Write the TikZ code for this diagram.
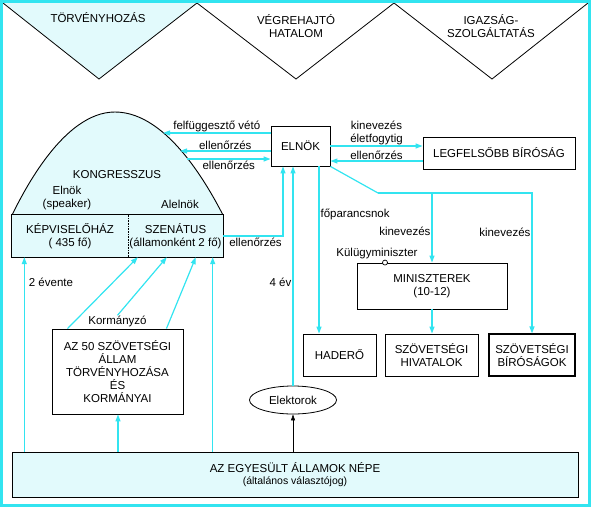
\documentclass[tikz,border=0pt]{standalone}
\usepackage{fontspec}
\setmainfont{Liberation Sans}
\usetikzlibrary{arrows.meta,positioning,shapes.geometric,calc}
\definecolor{kek}{RGB}{50,228,240}
\definecolor{halvany}{RGB}{226,250,252}

\begin{document}
\begin{tikzpicture}[x=1pt, y=-1pt,
  font=\fontsize{11.5}{13}\selectfont,
  doboz/.style ={rectangle, draw=black, line width=0.9pt, align=center,
                 inner sep=2pt},
  felirat/.style={inner sep=1pt, align=center, text=black},
  nyil/.style  ={-{Triangle[length=7pt,width=5pt]}, line width=1.2pt, kek},
  vonal/.style ={line width=1.2pt, kek},
  fekete/.style={-{Triangle[length=6pt,width=4pt]}, line width=0.6pt, black},
]
\useasboundingbox (0,0) rectangle (591,507);

% === Top: the three branches ===
\filldraw[fill=halvany, line width=0.8pt] (3,3) -- (99,79) -- (197,3);
\draw[line width=0.8pt] (197,3) -- (296,79) -- (394,3) -- (492,79) -- (588,3);
\node[felirat] (torv) at (98,18) {TÖRVÉNYHOZÁS};
\node[felirat] (vegr) at (296,26) {VÉGREHAJTÓ\\HATALOM};
\node[felirat] (igaz) at (491,26) {IGAZSÁG-\\SZOLGÁLTATÁS};

% === Congress ===
\fill[halvany] (12,215) parabola bend (115,112) (223,215) -- cycle;
\draw[line width=0.9pt] (12,215) parabola bend (115,112) (223,215);
\node[felirat] (kongr) at (117,175) {KONGRESSZUS};
\node[felirat] (speaker) at (67,198) {Elnök\\(speaker)};
\node[felirat] (alelnok) at (180,204) {Alelnök};

\node[rectangle, fill=halvany, minimum width=116pt, minimum height=42pt,
      align=center, inner sep=0pt] (kepv) at (70,236)
  {KÉPVISELŐHÁZ\\( 435 fő)};
\node[rectangle, fill=halvany, minimum width=95pt, minimum height=42pt,
      align=center, inner sep=0pt] (szen) at (175.5,236)
  {SZENÁTUS\\(államonként 2 fő)};
\draw[line width=0.9pt] (kepv.north west) rectangle (szen.south east);
\draw[densely dotted, line width=0.6pt] (kepv.north east) -- (kepv.south east);

% dome points hit by the arrows
\coordinate (dome1) at (163,133);
\coordinate (dome2) at (180,151);
\coordinate (dome3) at (187,159);

% === Executive and courts ===
\node[doboz, minimum width=59pt, minimum height=40pt] (elnok) at (300.5,146) {ELNÖK};
\node[doboz, minimum width=152pt, minimum height=32pt] (legf) at (499,153)
  {LEGFELSŐBB BÍRÓSÁG};
\node[doboz, minimum width=150pt, minimum height=46pt] (minisz) at (432,286)
  {MINISZTEREK\\(10-12)};
\node[doboz, minimum width=73pt, minimum height=42pt] (hadero) at (339.5,355)
  {HADERŐ};
\node[doboz, minimum width=93pt, minimum height=42pt] (hivatal) at (431.5,355)
  {SZÖVETSÉGI\\HIVATALOK};
\node[doboz, line width=1.15pt, minimum width=86pt, minimum height=42pt]
  (birosag) at (532,355) {SZÖVETSÉGI\\BÍRÓSÁGOK};

\node[circle, draw=black, fill=white, line width=0.7pt, inner sep=0pt,
      minimum size=5pt] (kulkor) at ([xshift=-47pt]minisz.north) {};
\node[felirat, above=0pt of kulkor, xshift=-8pt] (kulugy) {Külügyminiszter};

% === States, electors, people ===
\node[doboz, minimum width=131pt, minimum height=85pt] (allam) at (117.5,371.5)
  {AZ 50 SZÖVETSÉGI\\ÁLLAM\\TÖRVÉNYHOZÁSA\\ÉS\\KORMÁNYAI};
\node[felirat, above=0pt of allam] (kormanyzo) {Kormányzó};
\node[ellipse, draw=black, line width=0.8pt, minimum width=87pt,
      minimum height=28pt, inner sep=0pt] (elektor) at (293,400) {Elektorok};
\node[doboz, fill=halvany, minimum width=566pt, minimum height=45pt]
  (nep) at (295,474.5)
  {AZ EGYESÜLT ÁLLAMOK NÉPE\\[-1pt]{\fontsize{10.5}{12}\selectfont(általános választójog)}};

% === Elnök <-> Congress ===
\draw[nyil] (elnok.west |- dome1) -- node[above, felirat]{felfüggesztő vétó} (dome1);
\draw[nyil] (elnok.west |- dome2) -- node[above, felirat]{ellenőrzés} (dome2);
\draw[nyil] (dome3) -- node[below, felirat]{ellenőrzés} (elnok.west |- dome3);
\draw[nyil] (szen.east) -| node[pos=0.27, below, felirat]{ellenőrzés}
  ([xshift=-17.5pt]elnok.south);

% === Elnök <-> Supreme Court ===
\draw[nyil] (elnok.east) -- node[above, felirat]{kinevezés\\életfogytig}
  (elnok.east -| legf.west);
\draw[nyil] ([yshift=-8pt]legf.west) -- node[above, felirat]{ellenőrzés}
  ([yshift=-8pt]legf.west -| elnok.east);

% === Elnök -> executive ===
\draw[nyil] ([xshift=18.5pt]elnok.south) --
  node[pos=0.29, right, felirat]{főparancsnok}
  ([xshift=18.5pt]elnok.south |- hadero.north);
\coordinate (tores) at (378,193);
\draw[vonal] (elnok.south east) -- (tores);
\draw[nyil] (tores) -| node[pos=0.64, left, felirat]{kinevezés} (birosag.north);
\draw[nyil] (tores -| minisz.north) -- node[pos=0.55, left, felirat]{kinevezés}
  (minisz.north);
\draw[nyil] (minisz.south) -- (minisz.south |- hivatal.north);

% === Elections ===
\draw[nyil] (elektor.north) -- node[pos=0.47, left, felirat]{4 év}
  (elektor.north |- elnok.south);
\coordinate (k1) at ([xshift=12.5pt]kepv.south west);
\coordinate (s1) at ([xshift=-10.5pt]szen.south east);
\draw[nyil] (k1 |- nep.north) -- node[pos=0.87, right=3pt, felirat]{2 évente} (k1);
\draw[nyil] (s1 |- nep.north) -- (s1);
\draw[nyil] ([xshift=0.5pt]allam.south |- nep.north) -- ([xshift=0.5pt]allam.south);
\draw[fekete] (elektor.south |- nep.north) -- (elektor.south);

% === States -> Senate ===
\draw[nyil] ([xshift=16pt]allam.north west) -- ($(szen.south west)+(10,0)$);
\draw[nyil] (kormanyzo.north) -- ($(szen.south west)+(39,0)$);
\draw[nyil] ([xshift=-17pt]allam.north east) -- ($(szen.south west)+(68,0)$);

% === Frame ===
\draw[kek, line width=3pt] (1.5,1.5) rectangle (589.5,505.5);
\end{tikzpicture}
\end{document}
